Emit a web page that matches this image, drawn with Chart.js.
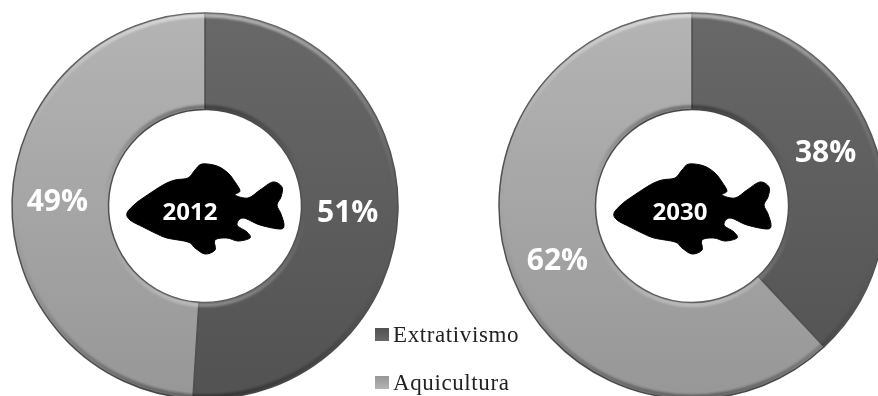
<!DOCTYPE html>
<html>
<head>
<meta charset="utf-8">
<script src="https://cdn.jsdelivr.net/npm/chart.js@4"></script>
<style>
html,body{margin:0;padding:0;background:#fff;overflow:hidden;width:878px;height:396px;}
canvas{position:absolute;top:0;}
#c1{left:0;}
#c2{left:487px;}
.leg{position:absolute;left:379px;font:23px "Liberation Serif",serif;color:#222;letter-spacing:0.6px;white-space:nowrap;}
.leg i{position:absolute;left:-4px;top:6px;width:14px;height:13px;}
.leg span{margin-left:14px;}
</style>
</head>
<body>
<canvas id="c1"></canvas>
<canvas id="c2"></canvas>
<div class="leg" id="leg0" style="top:322px"></div>
<div class="leg" id="leg1" style="top:370px"></div>
<script>
const categories=["Extrativismo","Aquicultura"];
const years=["2012","2030"];
const values2012=[51,49];
const values2030=[38,62];
const darkStops=["#686868","#525252"];
const lightStops=["#b4b4b4","#979797"];
const outerR=193;
const innerR=96.5;

// fish outline, offsets from the donut centre
const fish=[[-78,7],[-70,-2],[-62,-8],[-42,-21],[-30,-26],[-17,-28],[-10,-36],[-3,-42],[12,-40],[23,-33],[30,-24],[35,-15],[30,-11],[43,-8],[55,-16],[68,-24],[77,-19],[76,-9],[72,-1],[76,8],[79,19],[75,23],[55,19],[38,12],[32,19],[42,26],[45,32],[33,35],[22,32],[10,34],[10,44],[0,48],[-10,42],[-17,36],[-38,32],[-50,27],[-62,21],[-75,14]];

function drawFish(ctx,cx,cy){
    const n=fish.length;
    ctx.beginPath();
    ctx.moveTo(cx+fish[0][0],cy+fish[0][1]);
    for(let i=0;i<n;i++){
        const p0=fish[(i+n-1)%n],p1=fish[i],p2=fish[(i+1)%n],p3=fish[(i+2)%n];
        ctx.bezierCurveTo(
            cx+p1[0]+(p2[0]-p0[0])/6,cy+p1[1]+(p2[1]-p0[1])/6,
            cx+p2[0]-(p3[0]-p1[0])/6,cy+p2[1]-(p3[1]-p1[1])/6,
            cx+p2[0],cy+p2[1]);
    }
    ctx.closePath();
    ctx.fillStyle="#000";
    ctx.strokeStyle="#000";
    ctx.lineJoin="round";
    ctx.lineWidth=1;
    ctx.fill();
    ctx.stroke();
}

function rim(ctx,cx,cy,r,w,topCol,botCol){
    const g=ctx.createLinearGradient(0,cy-r,0,cy+r);
    g.addColorStop(0,topCol);
    g.addColorStop(0.5,"rgba(128,128,128,0)");
    g.addColorStop(1,botCol);
    ctx.beginPath();
    ctx.arc(cx,cy,r,0,Math.PI*2);
    ctx.lineWidth=w;
    ctx.strokeStyle=g;
    ctx.stroke();
}

const overlay={
    id:"overlay",
    afterDraw(chart){
        const ctx=chart.ctx;
        const o=chart.options.plugins.overlay;
        const arcs=chart.getDatasetMeta(0).data;
        const cx=arcs[0].x,cy=arcs[0].y;
        ctx.save();
        // bevel along the ring edges
        ctx.filter="blur(1px)";
        rim(ctx,cx,cy,outerR-2.5,4,"rgba(255,255,255,.5)","rgba(0,0,0,.35)");
        rim(ctx,cx,cy,innerR+2.5,4,"rgba(0,0,0,.35)","rgba(255,255,255,.3)");
        ctx.filter="none";
        drawFish(ctx,cx,cy);
        ctx.textAlign="center";
        ctx.textBaseline="middle";
        ctx.fillStyle="#fff";
        ctx.font='bold 24px "Open Sans",sans-serif';
        ctx.fillText(o.year,cx+o.yearShift,cy+7);
        ctx.font='bold 30px "Open Sans",sans-serif';
        arcs.forEach((arc,i)=>{
            const mid=(arc.startAngle+arc.endAngle)/2;
            const r=(arc.innerRadius+arc.outerRadius)/2;
            ctx.fillText(chart.data.datasets[0].data[i]+"%",cx+Math.cos(mid)*r+o.shift[i][0],cy+Math.sin(mid)*r+o.shift[i][1]);
        });
        ctx.restore();
    }
};

function ringFill(c){
    const stops=c.dataIndex==0?darkStops:lightStops;
    const a=c.chart.chartArea;
    if(!a)return stops[1];
    const y=(a.top+a.bottom)/2;
    const g=c.chart.ctx.createLinearGradient(0,y-outerR,0,y+outerR);
    g.addColorStop(0,stops[0]);
    g.addColorStop(1,stops[1]);
    return g;
}

function makeDonut(id,year,values,yearShift,shift){
    const el=document.getElementById(id);
    el.width=410;
    el.height=412;
    el.style.width="410px";
    el.style.height="412px";
    return new Chart(el,{
        type:"doughnut",
        data:{
            labels:categories,
            datasets:[{
                data:values,
                backgroundColor:ringFill,
                borderColor:"#505050",
                borderWidth:1.5
            }]
        },
        options:{
            responsive:false,
            animation:false,
            radius:outerR,
            cutout:"50%",
            layout:{padding:0},
            plugins:{
                legend:{display:false},
                tooltip:{enabled:false},
                overlay:{year:year,yearShift:yearShift,shift:shift}
            }
        },
        plugins:[overlay]
    });
}

makeDonut("c1",years[0],values2012,-15,[[-2,3],[-3,1]]);
makeDonut("c2",years[1],values2030,-12,[[-1,1],[0,2]]);

categories.forEach((name,i)=>{
    const stops=i==0?darkStops:lightStops;
    document.getElementById("leg"+i).innerHTML=
        `<i style="background:linear-gradient(${stops[1]},${stops[0]})"></i><span>${name}</span>`;
});
</script>
</body>
</html>
